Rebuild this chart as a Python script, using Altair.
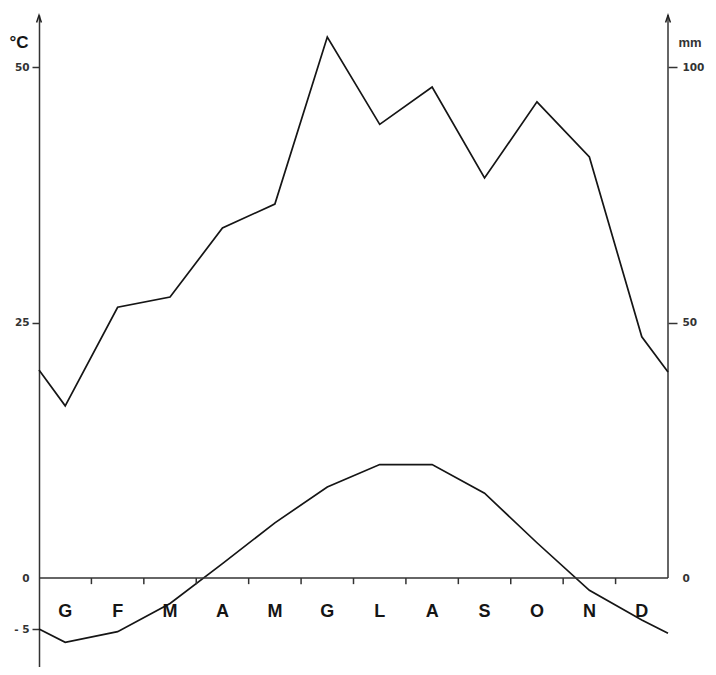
import altair as alt
import pandas as pd

# ---- data ----
months = ["G", "F", "M", "A", "M", "G", "L", "A", "S", "O", "N", "D"]
temp_c = [-6.3, -5.25, -2.5, 1.4, 5.4, 8.9, 11.1, 11.1, 8.3, 3.45, -1.2, -4.1]
temp_edges = [-5.0, -5.4]          # values drawn at the left / right axes
prec_mm = [33.7, 53.0, 55.0, 68.5, 73.2, 105.9, 88.8, 96.1, 78.3, 93.2, 82.4, 47.2]
prec_edges = [40.7, 40.3]
c_ticks = [-5, 0, 25, 50]
mm_ticks = [0, 50, 100]
boundaries = list(range(1, 12))

C_DOMAIN = [-8.71, 55.1]
MM_DOMAIN = [2 * C_DOMAIN[0], 2 * C_DOMAIN[1]]
X_DOMAIN = [0, 12]
LABEL_Y = -3.33
TICK_LEN = -0.6

pos = [X_DOMAIN[0]] + [i + 0.5 for i in range(12)] + [X_DOMAIN[1]]
df = pd.DataFrame({
    "pos": pos,
    "temp": [temp_edges[0]] + temp_c + [temp_edges[1]],
    "prec": [prec_edges[0]] + prec_mm + [prec_edges[1]],
})

INK = "#151515"
FONT = "Liberation Sans"

xs = alt.Scale(domain=X_DOMAIN, nice=False, zero=False)
ys = alt.Scale(domain=C_DOMAIN, nice=False, zero=False)
ms = alt.Scale(domain=MM_DOMAIN, nice=False, zero=False)

hide_zero_tick = {"condition": {"test": "datum.value === 0", "value": 0}, "value": 1}

left_axis = alt.Axis(
    values=c_ticks, title="°C", titleAngle=0, titleX=-30, titleY=27,
    titleAlign="left", titleBaseline="middle", titleFont=FONT,
    titleFontSize=17, titleFontWeight="bold", titleColor=INK,
    tickSize=7, tickColor="#333", tickWidth=1.5, tickOpacity=hide_zero_tick,
    labelPadding=3, labelFont="DejaVu Sans", labelFontSize=10.5,
    labelFontWeight="bold", labelColor="#333",
    labelExpr="datum.value < 0 ? '- ' + abs(datum.value) : datum.label",
    domainColor="#333", domainWidth=1.5, grid=False,
)
right_axis = alt.Axis(
    orient="right", values=mm_ticks, title="mm", titleAngle=0, titleX=10,
    titleY=27, titleAlign="left", titleBaseline="middle", titleFont=FONT,
    titleFontSize=13, titleFontWeight="bold", titleColor="#333",
    tickSize=9, tickColor="#333", tickWidth=1.5, tickOpacity=hide_zero_tick,
    labelPadding=5, labelFont="DejaVu Sans", labelFontSize=10.5,
    labelFontWeight="bold", labelColor="#333", domain=False, grid=False,
)


def X(f):
    return alt.X(f, type="quantitative", scale=xs, axis=None)


def Y(f):
    return alt.Y(f, type="quantitative", scale=ys, axis=left_axis)


temp_line = alt.Chart(df).mark_line(color=INK, strokeWidth=1.7).encode(
    x=X("pos"), y=Y("temp"))

zero_df = pd.DataFrame({"x": [X_DOMAIN[0]], "x2": [X_DOMAIN[1]], "y": [0]})
zero_rule = alt.Chart(zero_df).mark_rule(color="#333", strokeWidth=1.5).encode(
    x=X("x"), x2="x2", y=Y("y"))

tick_df = pd.DataFrame({"b": boundaries, "y0": [0] * len(boundaries),
                        "y1": [TICK_LEN] * len(boundaries)})
ticks = alt.Chart(tick_df).mark_rule(color="#333", strokeWidth=1.5).encode(
    x=X("b"), y=Y("y0"), y2="y1")

raxis_df = pd.DataFrame({"x": [X_DOMAIN[1]], "y0": [0], "y1": [C_DOMAIN[1]]})
right_rule = alt.Chart(raxis_df).mark_rule(color="#333", strokeWidth=1.5).encode(
    x=X("x"), y=Y("y0"), y2="y1")

arrow_df = pd.DataFrame({"x": X_DOMAIN, "y": [C_DOMAIN[1]] * 2})
arrows = alt.Chart(arrow_df).mark_point(
    shape="M -0.6 0.9 L 0 -0.9 L 0.6 0.9", size=64, filled=False,
    color="#222", strokeWidth=1.5, yOffset=4, opacity=1,
).encode(x=X("x"), y=Y("y"))

lab_df = pd.DataFrame({"pos": [i + 0.5 for i in range(12)], "m": months,
                       "y": [LABEL_Y] * 12})
labels = alt.Chart(lab_df).mark_text(
    font=FONT, fontSize=18, fontWeight="bold", color=INK,
    align="center", baseline="middle",
).encode(x=X("pos"), y=Y("y"), text="m")

prec_line = alt.Chart(df).mark_line(color=INK, strokeWidth=1.7).encode(
    x=X("pos"),
    y=alt.Y("prec", type="quantitative", scale=ms, axis=right_axis),
)

inner = alt.layer(temp_line, zero_rule, ticks, right_rule, arrows, labels)

chart = alt.layer(inner, prec_line).resolve_scale(y="independent").properties(
    width=629, height=652,
    padding={"left": 31, "top": 7, "right": 40, "bottom": 0},
    autosize=alt.AutoSizeParams(type="none"),
    background="white",
).configure_view(stroke=None)

chart.save("out.html", embed_options={"renderer": "svg", "actions": False})
